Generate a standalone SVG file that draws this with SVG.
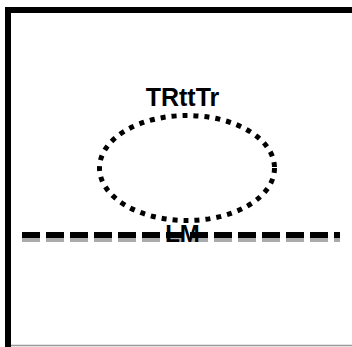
<svg xmlns="http://www.w3.org/2000/svg" width="352" height="347" viewBox="0 0 352 347">
<style>
.lbl{font-family:"Liberation Sans",Arial,sans-serif;font-weight:bold;fill:#000;text-anchor:middle}
</style>
<rect width="352" height="347" fill="#fff"/>
<g id="frame">
<line x1="5" y1="10" x2="352" y2="10" stroke="#000" stroke-width="6"/>
<line x1="8" y1="7" x2="8" y2="347" stroke="#000" stroke-width="6"/>
<line x1="11" y1="345.5" x2="352" y2="345.5" stroke="#999" stroke-width="1.5"/>
</g>
<g id="connectors">
<line x1="22" y1="239.5" x2="340" y2="239.5" stroke="#aaa" stroke-width="5" stroke-dasharray="18 6"/>
<line x1="22" y1="235" x2="340" y2="235" stroke="#000" stroke-width="6" stroke-dasharray="18 6"/>
</g>
<g id="node-TRttTr">
<ellipse cx="187" cy="168" rx="87.5" ry="52.5" fill="none" stroke="#000" stroke-width="5" stroke-dasharray="5 6"/>
<text class="lbl" x="182.5" y="106" font-size="25">TRttTr</text>
</g>
<g id="node-LM">
<text class="lbl" x="182.5" y="242" font-size="24">LM</text>
</g>
</svg>
